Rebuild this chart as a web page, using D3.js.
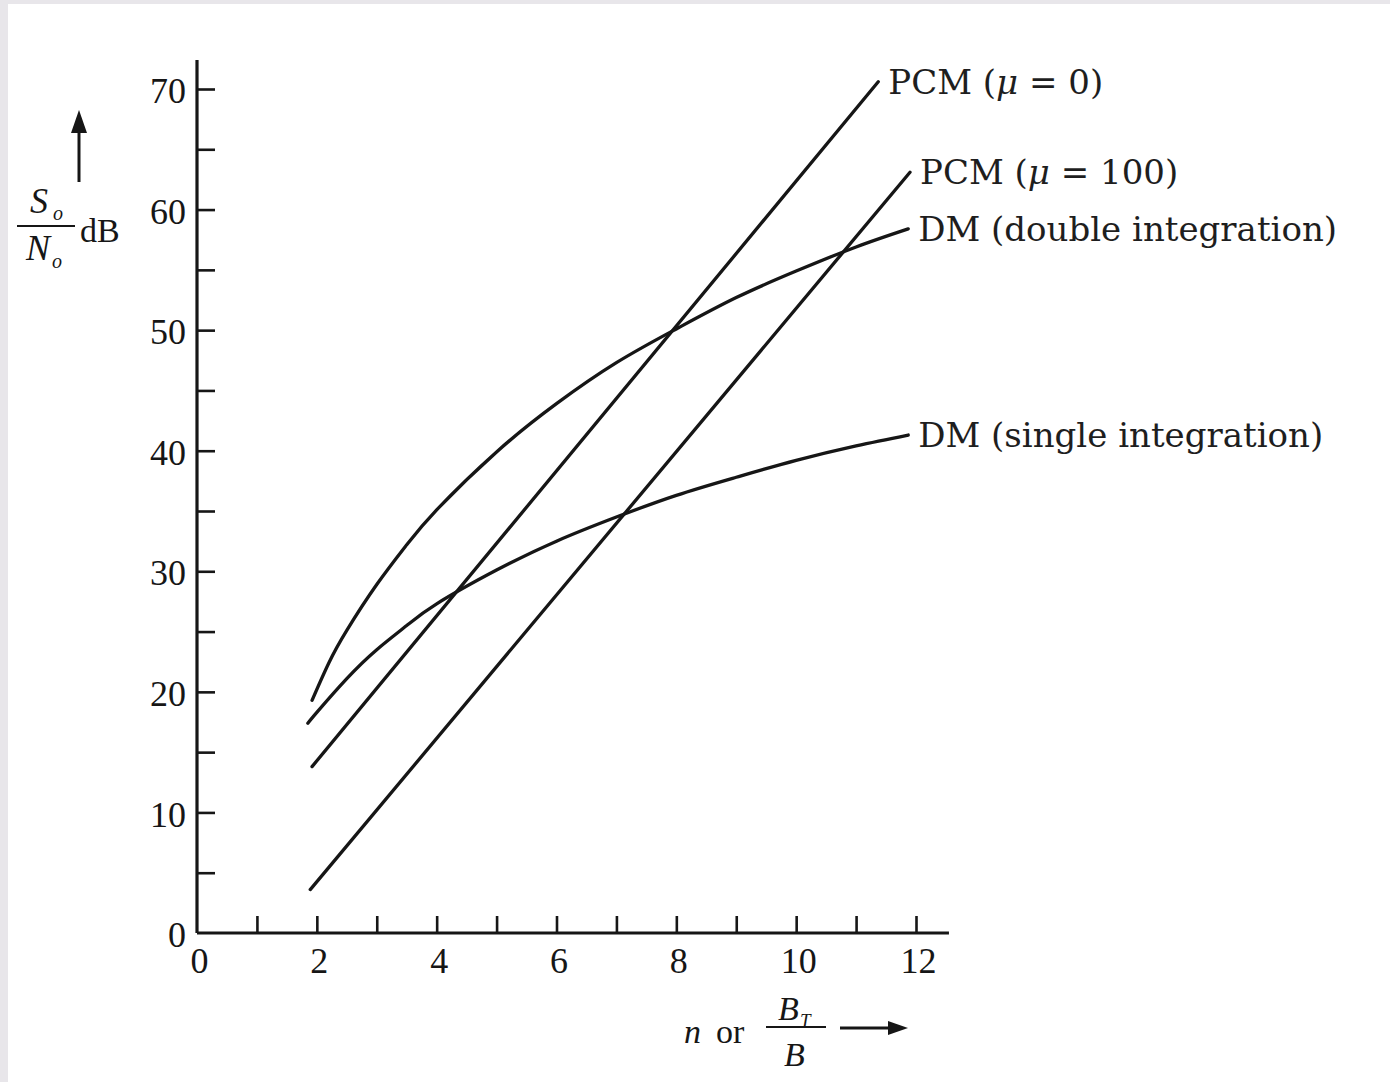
<!DOCTYPE html>
<html>
<head>
<meta charset="utf-8">
<script src="https://cdn.jsdelivr.net/npm/d3@7"></script>
<style>
  html, body { margin: 0; padding: 0; background: #e8e6ea; }
  svg { display: block; }
</style>
</head>
<body>
<script>
// n (bits per sample or BT/B) against So/No in dB
var pcm0N = [1.92, 11.37];
var pcm0Db = [13.8, 70.6];
var pcm100N = [1.89, 11.9];
var pcm100Db = [3.6, 63.1];
var dmDoubleN = [1.92, 2.2, 2.5, 3, 3.5, 4, 5, 6, 7, 8, 9, 10, 11, 11.87];
var dmDoubleDb = [19.3, 22.4, 25.1, 28.9, 32.2, 35.1, 39.9, 43.9, 47.3, 50.1, 52.7, 54.9, 56.9, 58.4];
var dmSingleN = [1.85, 2, 2.5, 3, 3.5, 4, 5, 6, 7, 8, 9, 10, 11, 11.87];
var dmSingleDb = [17.4, 18.3, 21.1, 23.5, 25.5, 27.3, 30.1, 32.5, 34.5, 36.3, 37.8, 39.2, 40.4, 41.3];

var seriesNames = [["PCM (", "\u03bc", " = 0)"], ["PCM (", "\u03bc", " = 100)"],
    ["DM (double integration)"], ["DM (single integration)"]];
var xTicks = [1, 2, 3, 4, 5, 6, 7, 8, 9, 10, 11, 12];
var xLabels = [0, 2, 4, 6, 8, 10, 12];
var yTicks = [5, 10, 15, 20, 25, 30, 35, 40, 45, 50, 55, 60, 65, 70];
var yLabels = [0, 10, 20, 30, 40, 50, 60, 70];

var W = 1390, H = 1082;
var ink = "#161616";
var serif = "'Liberation Serif', 'Times New Roman', Times, serif";
var wideSerif = "'DejaVu Serif', serif";

var svg = d3.select("body").append("svg")
    .attr("width", W)
    .attr("height", H);

// white page with thin grey scan border on left/top
svg.append("rect")
    .attr("x", 8).attr("y", 4)
    .attr("width", W - 8).attr("height", H - 4)
    .attr("fill", "#ffffff");

var x = d3.scaleLinear().domain([0, 12]).range([197, 916]);
var y = d3.scaleLinear().domain([0, 70]).range([933, 89]);

// axis lines
svg.append("line")
    .attr("x1", x(0)).attr("x2", x(12.55))
    .attr("y1", y(0)).attr("y2", y(0))
    .attr("stroke", ink).attr("stroke-width", 3.2);
svg.append("line")
    .attr("x1", x(0)).attr("x2", x(0))
    .attr("y1", y(0)).attr("y2", y(72.4))
    .attr("stroke", ink).attr("stroke-width", 3.2);

// x ticks (pointing up)
var xAxis = svg.append("g")
    .attr("transform", "translate(0," + y(0) + ")")
    .call(d3.axisBottom(x).tickValues(xTicks).tickSize(-17).tickSizeOuter(0).tickFormat(""));
xAxis.select(".domain").remove();
xAxis.selectAll("line").attr("stroke", ink).attr("stroke-width", 2.6);

// x labels
var xLab = svg.append("g")
    .attr("transform", "translate(0," + y(0) + ")")
    .call(d3.axisBottom(x).tickValues(xLabels).tickSize(0).tickPadding(14).tickFormat(d3.format("d")));
xLab.select(".domain").remove();
xLab.attr("font-family", serif);
xLab.selectAll("text")
    .style("font-family", serif)
    .attr("font-size", 36)
    .attr("fill", ink)
    .attr("dx", 2);

// y ticks (pointing right)
var yAxis = svg.append("g")
    .attr("transform", "translate(" + x(0) + ",0)")
    .call(d3.axisLeft(y).tickValues(yTicks).tickSize(-18).tickSizeOuter(0).tickFormat(""));
yAxis.select(".domain").remove();
yAxis.selectAll("line").attr("stroke", ink).attr("stroke-width", 2.6);

var yLab = svg.append("g")
    .attr("transform", "translate(" + x(0) + ",0)")
    .call(d3.axisLeft(y).tickValues(yLabels).tickSize(0).tickPadding(11).tickFormat(d3.format("d")));
yLab.select(".domain").remove();
yLab.attr("font-family", serif);
yLab.selectAll("text")
    .style("font-family", serif)
    .attr("font-size", 36)
    .attr("fill", ink)
    .attr("dy", "0.38em");

// curves
var series = [
    { n: pcm0N, db: pcm0Db },
    { n: pcm100N, db: pcm100Db },
    { n: dmDoubleN, db: dmDoubleDb },
    { n: dmSingleN, db: dmSingleDb }
];

var line = d3.line()
    .x(function (d) { return x(d[0]); })
    .y(function (d) { return y(d[1]); })
    .curve(d3.curveNatural);

series.forEach(function (s, i) {
    var pts = s.n.map(function (v, j) { return [v, s.db[j]]; });
    svg.append("path")
        .datum(pts)
        .attr("d", line)
        .attr("fill", "none")
        .attr("stroke", ink)
        .attr("stroke-width", 3.3)
        .attr("stroke-linecap", "round");

    // label just right of the curve end
    var last = pts[pts.length - 1];
    var t = svg.append("text")
        .attr("x", x(last[0]) + 10)
        .attr("y", y(last[1]) + 12)
        .style("font-family", wideSerif)
        .attr("font-size", 34)
        .attr("fill", "#1e1e1e");
    seriesNames[i].forEach(function (part, k) {
        var sp = t.append("tspan").text(part);
        if (k === 1) sp.attr("font-style", "italic");
    });
});

// y axis title: So/No dB with arrow up
var yt = svg.append("g").attr("fill", ink).style("font-family", serif);
yt.append("text").attr("x", 30).attr("y", 213).attr("font-size", 36).attr("font-style", "italic").text("S");
yt.append("text").attr("x", 53).attr("y", 220).attr("font-size", 20).attr("font-style", "italic").text("o");
yt.append("line").attr("x1", 17).attr("x2", 75).attr("y1", 226).attr("y2", 226)
    .attr("stroke", ink).attr("stroke-width", 2);
yt.append("text").attr("x", 26).attr("y", 260).attr("font-size", 36).attr("font-style", "italic").text("N");
yt.append("text").attr("x", 52).attr("y", 268).attr("font-size", 20).attr("font-style", "italic").text("o");
yt.append("text").attr("x", 80).attr("y", 242).attr("font-size", 34).text("dB");
yt.append("line").attr("x1", 79).attr("x2", 79).attr("y1", 182).attr("y2", 125)
    .attr("stroke", ink).attr("stroke-width", 3);
yt.append("path").attr("d", "M79,110 L71,133 L87,133 Z");

// x axis title: n or BT/B with arrow right
var xt = svg.append("g").attr("fill", ink).style("font-family", serif);
xt.append("text").attr("x", 684).attr("y", 1043).attr("font-size", 34).attr("font-style", "italic").text("n");
xt.append("text").attr("x", 716).attr("y", 1043).attr("font-size", 34).text("or");
xt.append("text").attr("x", 778).attr("y", 1020).attr("font-size", 34).attr("font-style", "italic").text("B");
xt.append("text").attr("x", 800).attr("y", 1027).attr("font-size", 19).attr("font-style", "italic").text("T");
xt.append("line").attr("x1", 766).attr("x2", 826).attr("y1", 1027).attr("y2", 1027)
    .attr("stroke", ink).attr("stroke-width", 2);
xt.append("text").attr("x", 784).attr("y", 1066).attr("font-size", 34).attr("font-style", "italic").text("B");
xt.append("line").attr("x1", 840).attr("x2", 892).attr("y1", 1028).attr("y2", 1028)
    .attr("stroke", ink).attr("stroke-width", 3);
xt.append("path").attr("d", "M908,1028 L888,1021 L888,1035 Z");
</script>
</body>
</html>
